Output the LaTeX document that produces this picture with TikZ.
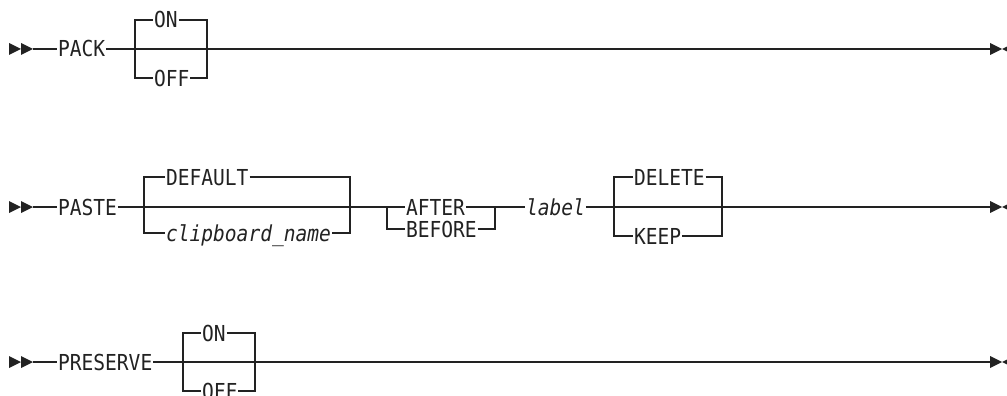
\documentclass[tikz,border=0pt]{standalone}
\usepackage{fontspec}
\setmainfont{DejaVu Sans Mono}[FakeStretch=0.89]
\definecolor{ink}{HTML}{222222}
\begin{document}
\begin{tikzpicture}[x=1pt,y=-1pt,line width=1.3pt,draw=ink,
  txt/.style={inner xsep=1pt,inner ysep=0pt,outer sep=0pt,text height=16pt,text depth=0pt,anchor=west,text=ink,font=\fontsize{22}{24}\selectfont},
  itx/.style={txt,font=\fontsize{22}{24}\selectfont\itshape},
  tip/.style={fill=ink,draw=none}]
\useasboundingbox (0,0) rectangle (1007,396);
\clip (0,0) rectangle (1007,396);
% ---------- row 1 ----------
\fill[tip] (9,43) -- (21,49) -- (9,55) -- cycle;
\fill[tip] (21,43) -- (33,49) -- (21,55) -- cycle;
\coordinate (a1) at (33,49);
\node[txt] (pack) at (57,49) {PACK};
\node[txt] (on1) at (153,20) {ON};
\node[txt] (off1) at (153,78) {OFF};
\coordinate (l1) at (135,49);
\coordinate (r1) at (207,49);
\coordinate (e1) at (990,49);
\draw (a1) -- (pack);
\draw (pack) -- (e1);
\draw (on1.west) -- (l1 |- on1.west) -- (l1 |- off1.west) -- (off1.west);
\draw (on1.east) -- (r1 |- on1.east) -- (r1 |- off1.east) -- (off1.east);
\fill[tip] (990,43) -- (1002,49) -- (990,55) -- cycle;
\fill[tip] (1014,43) -- (1002,49) -- (1014,55) -- cycle;
% ---------- row 2 ----------
\fill[tip] (9,201) -- (21,207) -- (9,213) -- cycle;
\fill[tip] (21,201) -- (33,207) -- (21,213) -- cycle;
\coordinate (a2) at (33,207);
\node[txt] (paste) at (57,207) {PASTE};
\node[txt] (default) at (165,177) {DEFAULT};
\node[itx] (clip) at (165,233) {clipboard\_name};
\coordinate (l2) at (144,207);
\coordinate (r2) at (350,207);
\draw (a2) -- (paste);
\draw (default.west) -- (l2 |- default.west) -- (l2 |- clip.west) -- (clip.west);
\draw (default.east) -- (r2 |- default.east) -- (r2 |- clip.east) -- (clip.east);
\node[txt] (after) at (405,207) {AFTER};
\node[txt] (before) at (405,229) {BEFORE};
\coordinate (l3) at (387,207);
\coordinate (r3) at (495,207);
\draw (paste) -- (after);
\draw (l3) -- (l3 |- before.west) -- (before.west);
\draw (before.east) -- (r3 |- before.east) -- (r3);
\node[itx] (label) at (525,207) {label};
\draw (after) -- (label);
\node[txt] (delete) at (633,177) {DELETE};
\node[txt] (keep) at (633,236) {KEEP};
\coordinate (l4) at (614,207);
\coordinate (r4) at (722,207);
\coordinate (e2) at (990,207);
\draw (label) -- (e2);
\draw (delete.west) -- (l4 |- delete.west) -- (l4 |- keep.west) -- (keep.west);
\draw (delete.east) -- (r4 |- delete.east) -- (r4 |- keep.east) -- (keep.east);
\fill[tip] (990,201) -- (1002,207) -- (990,213) -- cycle;
\fill[tip] (1014,201) -- (1002,207) -- (1014,213) -- cycle;
% ---------- row 3 ----------
\fill[tip] (9,356) -- (21,362) -- (9,368) -- cycle;
\fill[tip] (21,356) -- (33,362) -- (21,368) -- cycle;
\coordinate (a3) at (33,362);
\node[txt] (preserve) at (57,362) {PRESERVE};
\node[txt] (on3) at (201,333) {ON};
\node[txt] (off3) at (201,391) {OFF};
\coordinate (l5) at (183,362);
\coordinate (r5) at (255,362);
\coordinate (e3) at (990,362);
\draw (a3) -- (preserve);
\draw (preserve) -- (e3);
\draw (on3.west) -- (l5 |- on3.west) -- (l5 |- off3.west) -- (off3.west);
\draw (on3.east) -- (r5 |- on3.east) -- (r5 |- off3.east) -- (off3.east);
\fill[tip] (990,356) -- (1002,362) -- (990,368) -- cycle;
\fill[tip] (1014,356) -- (1002,362) -- (1014,368) -- cycle;
\end{tikzpicture}
\end{document}
